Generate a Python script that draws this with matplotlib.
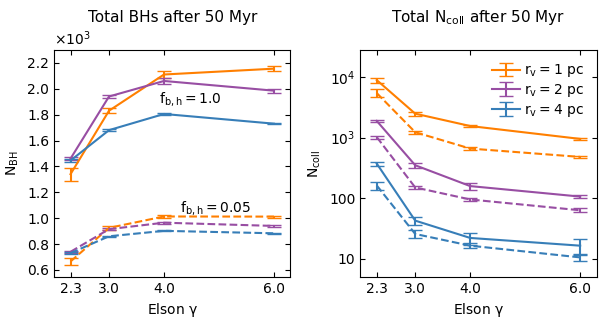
import matplotlib
matplotlib.use("Agg")
import matplotlib.pyplot as plt
import numpy as np

plt.rcParams['mathtext.default'] = 'regular'
plt.rcParams['xtick.direction'] = 'in'
plt.rcParams['ytick.direction'] = 'in'
plt.rcParams['xtick.top'] = True
plt.rcParams['ytick.right'] = True

gamma = [2.3, 3.0, 4.0, 6.0]
rv_labels = [r'$r_{\rm v} = 1$ pc', r'$r_{\rm v} = 2$ pc', r'$r_{\rm v} = 4$ pc']
colors = ['#ff7f00', '#984ea3', '#377eb8']

# total BHs, f_bh = 1.0 (solid) and 0.05 (dashed)
nbh_hi = [[1340, 1830, 2110, 2155],
          [1460, 1940, 2060, 1985],
          [1445, 1680, 1805, 1730]]
nbh_hi_err = [[50, 20, 30, 20],
              [12, 15, 22, 15],
              [10, 8, 5, 3]]
nbh_lo = [[665, 925, 1013, 1012],
          [740, 915, 965, 940],
          [730, 860, 902, 883]]
nbh_lo_err = [[30, 15, 12, 8],
              [10, 8, 7, 7],
              [8, 5, 5, 5]]

# total collisions
ncoll_hi = [[8900, 2480, 1550, 950],
            [1885, 349, 158, 106],
            [372, 42.5, 22, 16.4]]
ncoll_hi_err = [[900, 200, 60, 40],
                [100, 30, 20, 6],
                [30, 6, 5, 5]]
ncoll_lo = [[5430, 1225, 658, 479],
            [1020, 150, 95, 63],
            [162, 25.6, 16.4, 10.5]]
ncoll_lo_err = [[800, 60, 30, 20],
                [60, 10, 6, 5],
                [25, 4, 1.5, 1.5]]

fig, (ax1, ax2) = plt.subplots(1, 2, figsize=(6.07, 3.22), dpi=100)
fig.subplots_adjust(left=0.089, right=0.983, bottom=0.14, top=0.845, wspace=0.295)

for i in range(3):
    ax1.errorbar(gamma, nbh_hi[i], yerr=nbh_hi_err[i], color=colors[i], capsize=5, lw=1.5)
    ax1.errorbar(gamma, nbh_lo[i], yerr=nbh_lo_err[i], color=colors[i], capsize=5, lw=1.5, ls='--')
    ax2.errorbar(gamma, ncoll_hi[i], yerr=ncoll_hi_err[i], color=colors[i], capsize=5, lw=1.5,
                 label=rv_labels[i])
    ax2.errorbar(gamma, ncoll_lo[i], yerr=ncoll_lo_err[i], color=colors[i], capsize=5, lw=1.5, ls='--')

ax1.text(3.9, 1920, r'$f_{\rm b,h} = 1.0$', va='center')
ax1.text(4.3, 1080, r'$f_{\rm b,h} = 0.05$', va='center')
ax1.set_xlim(2.0, 6.3)
ax1.set_ylim(546, 2300)
ax1.set_yticks(np.arange(600, 2201, 200))
ax1.yaxis.set_major_formatter(matplotlib.ticker.FuncFormatter(lambda v, p: '%.1f' % (v / 1000)))
ax1.text(0.0, 1.008, r'$\times10^3$', transform=ax1.transAxes, ha='left', va='bottom')
ax1.set_xticks(gamma)
ax1.set_xticklabels(['%.1f' % g for g in gamma])
ax1.set_xlabel(r'Elson $\gamma$')
ax1.set_ylabel(r'$N_{\rm BH}$')
ax1.set_title('Total BHs after 50 Myr', pad=20, fontsize=11)

ax2.set_yscale('log')
ax2.set_xlim(2.0, 6.3)
ax2.set_ylim(5, 28000)
ax2.set_yticks([10, 100, 1000, 10000])
ax2.set_yticklabels(['10', '100', r'$10^3$', r'$10^4$'])
ax2.yaxis.set_minor_locator(matplotlib.ticker.NullLocator())
ax2.set_xticks(gamma)
ax2.set_xticklabels(['%.1f' % g for g in gamma])
ax2.set_xlabel(r'Elson $\gamma$')
ax2.set_ylabel(r'$N_{\rm coll}$')
ax2.set_title(r'Total $N_{\rm coll}$ after 50 Myr', pad=20, fontsize=11)
ax2.legend(loc='upper right', frameon=False, handlelength=2.0, borderaxespad=0.5,
           labelspacing=0.2, handletextpad=0.3)

fig.savefig('out.png', dpi=100)
